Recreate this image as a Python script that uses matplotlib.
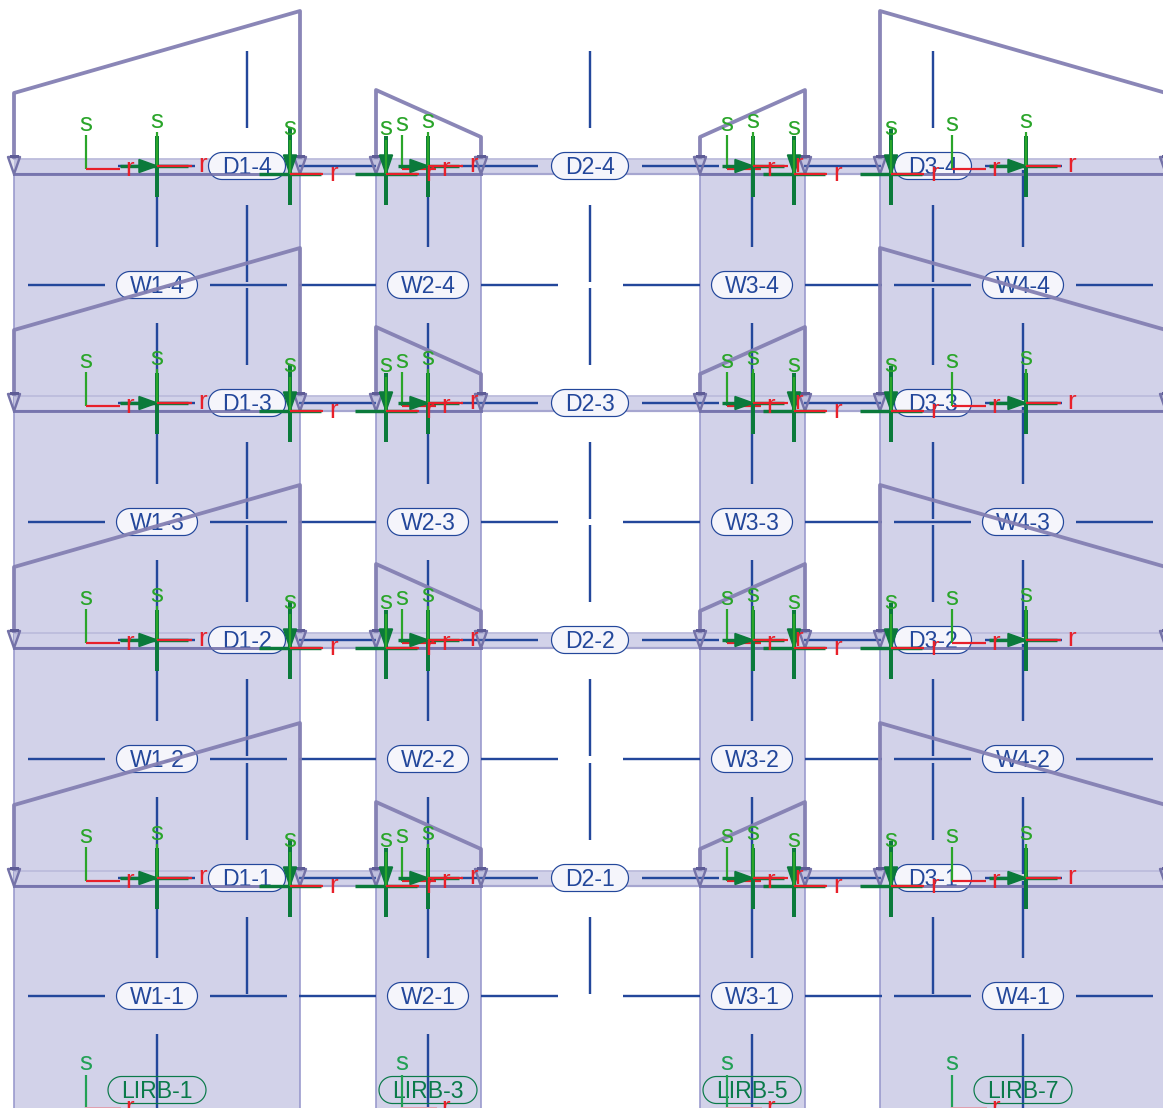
import numpy as np
import matplotlib
matplotlib.use('Agg')
import matplotlib.pyplot as plt
from matplotlib.patches import Polygon, Rectangle

plt.rcParams['font.family'] = ['Liberation Sans', 'DejaVu Sans']

# elevation of each level, picture units, top level first
beam_y = [166, 403, 640, 878]
wall_y = [285, 522, 759, 996]
lirb_y = 1090
lirb_frame_y = 1108
base_y = 1112

# wall bays
bay_left = [14, 376, 700, 880]
bay_right = [300, 481, 805, 1166]
load_left = [81, 84, 37, 163]
load_right = [163, 37, 84, 81]

wall_x = [157, 428, 752, 1023]
door_x = [247, 590, 933]
wall_names = ['W1', 'W2', 'W3', 'W4']
door_names = ['D1', 'D2', 'D3']
lirb_names = ['LIRB-1', 'LIRB-3', 'LIRB-5', 'LIRB-7']
levels = ['4', '3', '2', '1']

# local axes
frame_x = [86, 402, 727, 952]
wall_axis_x = [157, 428, 753, 1026]
wall_axis_back = [37, 30, 31, 37]
col_axis_x = [290, 386, 794, 891]
col_axis_top = [128, 136, 136, 129]

BLUE = '#23479b'
FILL = '#d2d2e9'
EDGE = '#9898cc'
LOAD = '#8480b3'
DARK = '#0b7a3b'
GREEN = '#2aa52a'
RED = '#e8202a'
FS = 16.6


def px(n):
    return n * 0.72


def pill(x, y, w, name, color, face, z):
    # straight sides with a half circle at each end
    t = np.linspace(-np.pi / 2, np.pi / 2, 30)
    rad = 13.5
    xs = np.r_[x + w / 2 - rad + rad * np.cos(t), x - w / 2 + rad - rad * np.cos(t[::-1])]
    ys = np.r_[y + rad * np.sin(t), y + rad * np.sin(t[::-1])]
    ax.add_patch(Polygon(np.c_[xs, ys], closed=True, fc=face, ec=color, lw=px(1.2), zorder=z))
    ax.text(x, y - 1.3, name, color=color, fontsize=FS, ha='center', va='center_baseline', zorder=z + 0.1)


fig = plt.figure(figsize=(11.63, 11.08), dpi=100)
ax = fig.add_axes([0, 0, 1, 1])
ax.set_xlim(0, 1163)
ax.set_ylim(1108, 0)
ax.axis('off')

# panels
for l, r in zip(bay_left, bay_right):
    ax.add_patch(Rectangle((l, beam_y[0] + 8), r - l, base_y - beam_y[0] - 8, fc=FILL, ec=EDGE, lw=px(1.6), zorder=1))

# beam strips
for y in beam_y:
    ax.add_patch(Rectangle((bay_left[0], y - 7), 1200, 15, fc=FILL, ec='none', zorder=1.2))
    ax.plot([bay_left[0], 1200], [y - 7, y - 7], color='#bcbcdc', lw=px(1.8), zorder=1.3)
    ax.plot([bay_left[0], 1200], [y + 7.5, y + 7.5], color='#a6a6d0', lw=px(2.2), zorder=1.3)

# blue grid lines around the labels
for wy in wall_y:
    for x in wall_x:
        ax.plot([x - 129, x - 52], [wy, wy], color=BLUE, lw=px(2.4), zorder=2, solid_capstyle='butt')
        ax.plot([x + 53, x + 130], [wy, wy], color=BLUE, lw=px(2.4), zorder=2, solid_capstyle='butt')
        ax.plot([x, x], [wy - 115, wy - 38], color=BLUE, lw=px(2.4), zorder=2, solid_capstyle='butt')
        ax.plot([x, x], [wy + 38, wy + 115], color=BLUE, lw=px(2.4), zorder=2, solid_capstyle='butt')
for by in beam_y:
    for x in door_x:
        ax.plot([x - 129, x - 52], [by, by], color=BLUE, lw=px(2.4), zorder=2, solid_capstyle='butt')
        ax.plot([x + 52, x + 129], [by, by], color=BLUE, lw=px(2.4), zorder=2, solid_capstyle='butt')
        ax.plot([x, x], [by - 115, by - 38], color=BLUE, lw=px(2.4), zorder=2, solid_capstyle='butt')
        ax.plot([x, x], [by + 39, by + 116], color=BLUE, lw=px(2.4), zorder=2, solid_capstyle='butt')

# labels
for i, lev in enumerate(levels):
    for x, n in zip(wall_x, wall_names):
        pill(x, wall_y[i], 81, n + '-' + lev, BLUE, '#f5f5fb', 3)
    for x, n in zip(door_x, door_names):
        pill(x, beam_y[i], 77, n + '-' + lev, BLUE, '#f5f5fb', 3)
for x, n in zip(wall_x, lirb_names):
    pill(x, lirb_y, 98, n, '#0a7a4a', (1, 1, 1, 0.0), 3)

# trapezoid loads with their end arrows
for by in beam_y:
    y0 = by + 8
    for l, r, hl, hr in zip(bay_left, bay_right, load_left, load_right):
        ax.plot([l, l, r, r], [y0 - 17, y0 - hl, y0 - hr, y0 - 17], color=LOAD, lw=px(3.8), alpha=0.95, zorder=4,
                solid_joinstyle='round')
        ax.plot([l, r], [y0, y0], color='#6f6da8', lw=px(3), alpha=0.85, zorder=4)
        for x in (l, r):
            ax.add_patch(Polygon([(x - 6, y0 - 17), (x + 6, y0 - 17), (x, y0)], closed=True, fc=(0.55, 0.55, 0.75, 0.25),
                                 ec='#7472a8', lw=px(2.4), joinstyle='round', zorder=4.2))
            ax.plot([x - 3, x + 3], [y0 - 18, y0 - 18], color='#5e5c96', lw=px(3), zorder=4.2)

# local axes, thin frames
for by in beam_y:
    fy = by + 3
    for x in frame_x:
        ax.plot([x, x], [fy - 34, fy], color=GREEN, lw=px(2.2), zorder=5, solid_capstyle='butt')
        ax.plot([x, x + 34], [fy, fy], color=RED, lw=px(2.2), zorder=5, solid_capstyle='butt')
        ax.text(x, fy - 45, 's', color=GREEN, fontsize=FS + 2, ha='center', va='center', zorder=6)
        ax.text(x + 44, fy, 'r', color=RED, fontsize=FS + 2, ha='center', va='center', zorder=6)

    # member axes at the wall centre
    for x, back in zip(wall_axis_x, wall_axis_back):
        ax.plot([x, x], [by - 30, by + 31], color=DARK, lw=px(4), zorder=5, solid_capstyle='butt')
        ax.plot([x - back, x + 31], [by, by], color=DARK, lw=px(3.4), zorder=5, solid_capstyle='butt')
        ax.add_patch(Polygon([(x - 18, by - 6.5), (x - 18, by + 6.5), (x, by)], closed=True, fc=DARK, ec=DARK, lw=px(1.5), zorder=5))
        ax.plot([x, x], [by - 34, by], color=GREEN, lw=px(2.2), zorder=5.2, solid_capstyle='butt')
        ax.plot([x, x + 35], [by, by], color=RED, lw=px(2.2), zorder=5.2, solid_capstyle='butt')
        ax.text(x, by - 45, 's', color=GREEN, fontsize=FS + 2, ha='center', va='center', zorder=6)
        ax.text(x + 46, by - 1, 'r', color=RED, fontsize=FS + 2, ha='center', va='center', zorder=6)

    # member axes at the column lines
    cy = by + 8
    for x, top in zip(col_axis_x, col_axis_top):
        ax.plot([x, x], [top - beam_y[0] + by, cy + 31], color=DARK, lw=px(4), zorder=5, solid_capstyle='butt')
        ax.plot([x - 31, x + 31], [cy, cy], color=DARK, lw=px(3.4), zorder=5, solid_capstyle='butt')
        ax.add_patch(Polygon([(x - 6.5, cy - 19), (x + 6.5, cy - 19), (x, cy)], closed=True, fc=DARK, ec=DARK, lw=px(1.5), zorder=5))
        ax.plot([x, x], [cy - 34, cy], color=GREEN, lw=px(2.2), zorder=5.2, solid_capstyle='butt')
        ax.plot([x, x + 33], [cy, cy], color=RED, lw=px(2.2), zorder=5.2, solid_capstyle='butt')
        ax.text(x, cy - 46, 's', color=GREEN, fontsize=FS + 2, ha='center', va='center', zorder=6)
        ax.text(x + 44, cy, 'r', color=RED, fontsize=FS + 2, ha='center', va='center', zorder=6)

# frames at the isolator level
for x in frame_x:
    ax.plot([x, x], [lirb_frame_y - 33, lirb_frame_y], color='#22a055', lw=px(2.2), zorder=5, solid_capstyle='butt')
    ax.text(x, lirb_frame_y - 45, 's', color='#22a055', fontsize=FS + 2, ha='center', va='center', zorder=6)
    ax.text(x + 44, lirb_frame_y, 'r', color=RED, fontsize=FS + 2, ha='center', va='center', zorder=6)
    ax.plot([x, x + 34], [lirb_frame_y, lirb_frame_y], color='#e0a0b0', lw=px(2), zorder=5)

fig.savefig('out.png', dpi=100)
